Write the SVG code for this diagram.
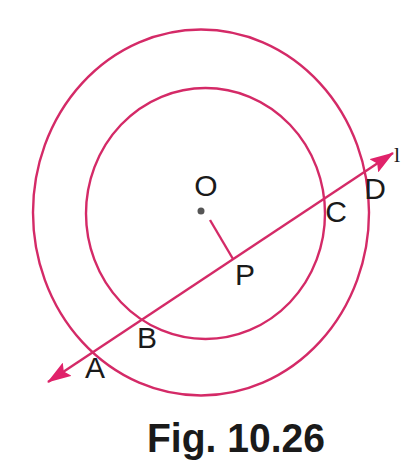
<svg xmlns="http://www.w3.org/2000/svg" width="416" height="462" viewBox="0 0 416 462">
<defs>
<style>
.c{fill:none;stroke:#d42a67;stroke-width:2.4}
.ln{stroke:#d42a67;stroke-width:2.4;fill:none}
.lb{font-family:"Liberation Sans",Arial,sans-serif;font-size:30px;fill:#1a1a1a}
.ttl{font-family:"Liberation Sans",Arial,sans-serif;font-size:41px;font-weight:bold;fill:#1a1a1a}
</style>
<marker id="ah" viewBox="0 0 24 16" refX="23" refY="8" markerWidth="24" markerHeight="16" orient="auto-start-reverse" markerUnits="userSpaceOnUse">
<path d="M0,0 L24,8 L0,16 L4,8 Z" fill="#e0226a"/>
</marker>
</defs>
<rect width="416" height="462" fill="#ffffff"/>
<g id="outer-circle"><ellipse class="c" cx="201" cy="212.5" rx="168" ry="183"/></g>
<g id="inner-circle"><ellipse class="c" cx="205.5" cy="213.5" rx="119.5" ry="125.5"/></g>
<g id="connectors">
<line class="ln" x1="48" y1="382" x2="393" y2="153" marker-start="url(#ah)" marker-end="url(#ah)"/>
<line class="ln" x1="210" y1="220" x2="233" y2="259"/>
</g>
<g id="O"><circle cx="201" cy="211" r="3.5" fill="#555"/><text class="lb" x="206" y="196" text-anchor="middle">O</text></g>
<g id="P"><text class="lb" x="245" y="285" text-anchor="middle">P</text></g>
<g id="A"><text class="lb" x="95" y="378" text-anchor="middle">A</text></g>
<g id="B"><text class="lb" x="147" y="348" text-anchor="middle">B</text></g>
<g id="C"><text class="lb" x="336" y="222" text-anchor="middle">C</text></g>
<g id="D"><text class="lb" x="375" y="199" text-anchor="middle">D</text></g>
<g id="l"><text x="397" y="162" text-anchor="middle" font-family="Liberation Serif,serif" font-size="22" fill="#1a1a1a">l</text></g>
<text class="ttl" x="147" y="452" textLength="178" lengthAdjust="spacingAndGlyphs">Fig. 10.26</text>
</svg>
